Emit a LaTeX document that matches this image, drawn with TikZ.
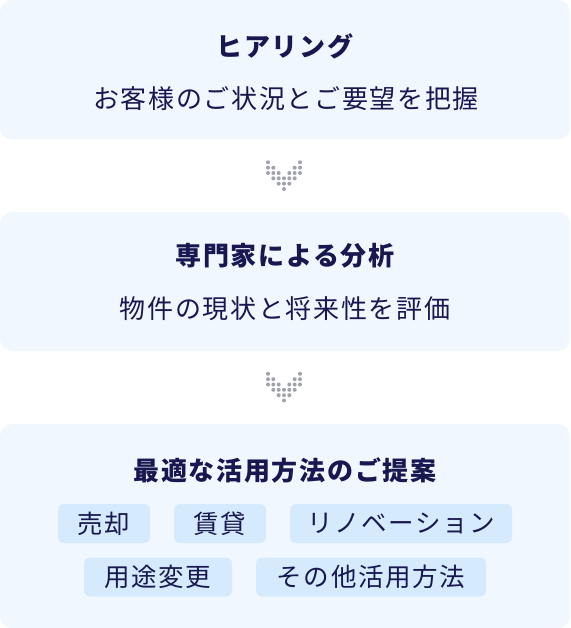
\documentclass[tikz,border=0pt]{standalone}
\usepackage{tikz}
\usepackage{fontspec}
\setmainfont{Noto Sans CJK JP}[LetterSpace=6.5]

\definecolor{boxblue}{RGB}{240,247,255}
\definecolor{chipblue}{RGB}{214,234,253}
\definecolor{navy}{RGB}{24,24,80}
\definecolor{dotgray}{RGB}{160,163,172}

\tikzset{
  stepbg/.style={fill=boxblue, rounded corners=12},
  titletext/.style={text=navy, font=\fontsize{26}{30}\selectfont\bfseries, inner sep=0},
  subtext/.style={text=navy, font=\fontsize{26}{30}\selectfont, inner sep=0},
  chip/.style={fill=chipblue, rounded corners=6, text=navy, font=\fontsize{25.5}{30}\selectfont, inner sep=0, minimum height=39},
}

\begin{document}
\begin{tikzpicture}[x=1pt,y=1pt,yscale=-1,xscale=1]
\useasboundingbox (0,0) rectangle (570,628);

%Shape: Rectangle [step 1]
\path [stepbg] (0,0) rectangle (570,139.5) ;
%Shape: Rectangle [step 2]
\path [stepbg] (0,212) rectangle (570,351) ;
%Shape: Rectangle [step 3]
\path [stepbg] (0,424) rectangle (570,628) ;

%Dots: arrow 1
\fill [dotgray] (268,162.3) circle (2) (300,162.3) circle (2) ;
\fill [dotgray] (268,167.7) circle (2) (273.3,167.7) circle (2) (294.7,167.7) circle (2) (300,167.7) circle (2) ;
\fill [dotgray] (268,173) circle (2) (273.3,173) circle (2) (278.7,173) circle (2) (289.3,173) circle (2) (294.7,173) circle (2) (300,173) circle (2) ;
\fill [dotgray] (273.3,178.3) circle (2) (278.7,178.3) circle (2) (284,178.3) circle (2) (289.3,178.3) circle (2) (294.7,178.3) circle (2) ;
\fill [dotgray] (278.7,183.7) circle (2) (284,183.7) circle (2) (289.3,183.7) circle (2) ;
\fill [dotgray] (284,189) circle (2) ;

%Dots: arrow 2
\fill [dotgray] (268,373.8) circle (2) (300,373.8) circle (2) ;
\fill [dotgray] (268,379.2) circle (2) (273.3,379.2) circle (2) (294.7,379.2) circle (2) (300,379.2) circle (2) ;
\fill [dotgray] (268,384.5) circle (2) (273.3,384.5) circle (2) (278.7,384.5) circle (2) (289.3,384.5) circle (2) (294.7,384.5) circle (2) (300,384.5) circle (2) ;
\fill [dotgray] (273.3,389.8) circle (2) (278.7,389.8) circle (2) (284,389.8) circle (2) (289.3,389.8) circle (2) (294.7,389.8) circle (2) ;
\fill [dotgray] (278.7,395.2) circle (2) (284,395.2) circle (2) (289.3,395.2) circle (2) ;
\fill [dotgray] (284,400.5) circle (2) ;

% Text Node
\node [titletext] (hearTitle) at (285,46) {ヒアリング};
% Text Node
\node [subtext] (hearText) at (286,98.5) {お客様のご状況とご要望を把握};
% Text Node
\node [titletext] (analysisTitle) at (285,256) {専門家による分析};
% Text Node
\node [subtext] (analysisText) at (285,309) {物件の現状と将来性を評価};
% Text Node
\node [titletext] (proposalTitle) at (285,470) {最適な活用方法のご提案};

% Chips
\node [chip, minimum width=92] (chipSale) at (104,523.5) {売却};
\node [chip, minimum width=92] (chipRent) at (220,523.5) {賃貸};
\node [chip, minimum width=222] (chipReno) at (401,523.5) {リノベーション};
\node [chip, minimum width=148] (chipConv) at (158,577) {用途変更};
\node [chip, minimum width=230] (chipOther) at (371,577) {その他活用方法};

\end{tikzpicture}
\end{document}
